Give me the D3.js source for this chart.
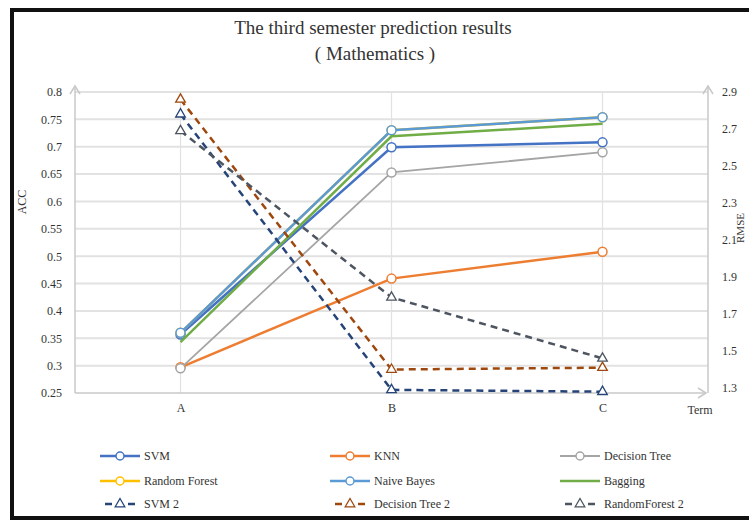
<!DOCTYPE html>
<html>
<head>
<meta charset="utf-8">
<script src="https://cdn.jsdelivr.net/npm/d3@7"></script>
<style>
  body { margin: 0; background: #fff; }
  text { font-family: "Liberation Serif", "DejaVu Serif", serif; fill: #333; }
</style>
</head>
<body>
<div id="chart"></div>
<script>
// Data
var terms = ["A", "B", "C"];
var accTicks = [0.25, 0.3, 0.35, 0.4, 0.45, 0.5, 0.55, 0.6, 0.65, 0.7, 0.75, 0.8];
var rmseTicks = [1.3, 1.5, 1.7, 1.9, 2.1, 2.3, 2.5, 2.7, 2.9];

var svmAcc = [0.357, 0.699, 0.708];
var knnAcc = [0.297, 0.459, 0.508];
var treeAcc = [0.295, 0.653, 0.690];
var forestAcc = [0.360, 0.730, 0.754]; // hidden under Naive Bayes in the original
var bayesAcc = [0.360, 0.730, 0.754];
var baggingAcc = [0.343, 0.719, 0.742];

var svmRmse = [2.78, 1.29, 1.28];
var treeRmse = [2.86, 1.40, 1.41];
var forestRmse = [2.69, 1.79, 1.46];

var seriesList = [
    {name: "SVM", values: svmAcc, color: "#4472c4", axis: "acc", width: 2.5, marker: "circle"},
    {name: "KNN", values: knnAcc, color: "#ed7d31", axis: "acc", width: 2.5, marker: "circle"},
    {name: "Decision Tree", values: treeAcc, color: "#a5a5a5", axis: "acc", width: 1.8, marker: "circle"},
    {name: "Random Forest", values: forestAcc, color: "#ffc000", axis: "acc", width: 2.5, marker: "circle"},
    {name: "Naive Bayes", values: bayesAcc, color: "#5b9bd5", axis: "acc", width: 2.5, marker: "circle"},
    {name: "Bagging", values: baggingAcc, color: "#70ad47", axis: "acc", width: 2.5, marker: "none"},
    {name: "SVM 2", values: svmRmse, color: "#264478", axis: "rmse", width: 2.5, marker: "triangle"},
    {name: "Decision Tree 2", values: treeRmse, color: "#9e480e", axis: "rmse", width: 2.5, marker: "triangle"},
    {name: "RandomForest 2", values: forestRmse, color: "#4d5560", axis: "rmse", width: 2.5, marker: "triangle"}
];

var width = 749;
var height = 523;
var plot = {left: 75, right: 708, top: 92, bottom: 393};

var svg = d3.select("#chart").append("svg")
    .attr("width", width)
    .attr("height", height);

// Frame
svg.append("rect")
    .attr("x", 12)
    .attr("y", 10)
    .attr("width", 745)
    .attr("height", 508)
    .attr("fill", "#fff")
    .attr("stroke", "#111")
    .attr("stroke-width", 4);

// Scales
var xScale = d3.scalePoint()
    .domain(terms)
    .range([plot.left, plot.right])
    .padding(0.5);
var yAcc = d3.scaleLinear()
    .domain([0.25, 0.8])
    .range([plot.bottom, plot.top]);
var yRmse = d3.scaleLinear()
    .domain([1.3, 2.9])
    .range([388, plot.top]);

// Gridlines
svg.append("g")
    .attr("class", "grid")
    .selectAll("line")
    .data(accTicks.slice(1))
    .enter().append("line")
    .attr("x1", plot.left)
    .attr("x2", plot.right)
    .attr("y1", function(d) { return yAcc(d); })
    .attr("y2", function(d) { return yAcc(d); })
    .attr("stroke", "#e2e2e2")
    .attr("stroke-width", 2);

svg.append("g")
    .selectAll("line")
    .data(terms)
    .enter().append("line")
    .attr("x1", function(d) { return xScale(d); })
    .attr("x2", function(d) { return xScale(d); })
    .attr("y1", plot.top)
    .attr("y2", plot.bottom)
    .attr("stroke", "#e2e2e2")
    .attr("stroke-width", 1.2);

// Axis lines with arrow heads
var axisColor = "#c8c8c8";
var axisLines = svg.append("g").attr("class", "axis-lines");
axisLines.append("line")
    .attr("x1", plot.left).attr("x2", plot.left)
    .attr("y1", plot.bottom).attr("y2", plot.top - 6)
    .attr("stroke", axisColor).attr("stroke-width", 1.5);
axisLines.append("path")
    .attr("d", d3.line()([[plot.left - 5, plot.top + 2], [plot.left, plot.top - 6], [plot.left + 5, plot.top + 2]]))
    .attr("fill", "none").attr("stroke", axisColor).attr("stroke-width", 1.5);
axisLines.append("line")
    .attr("x1", plot.right).attr("x2", plot.right)
    .attr("y1", plot.bottom).attr("y2", plot.top - 6)
    .attr("stroke", axisColor).attr("stroke-width", 1.5);
axisLines.append("path")
    .attr("d", d3.line()([[plot.right - 5, plot.top + 2], [plot.right, plot.top - 6], [plot.right + 5, plot.top + 2]]))
    .attr("fill", "none").attr("stroke", axisColor).attr("stroke-width", 1.5);
axisLines.append("line")
    .attr("x1", plot.left).attr("x2", plot.right - 2)
    .attr("y1", plot.bottom).attr("y2", plot.bottom)
    .attr("stroke", axisColor).attr("stroke-width", 1.5);
axisLines.append("path")
    .attr("d", d3.line()([[plot.right - 10, plot.bottom - 5], [plot.right - 2, plot.bottom], [plot.right - 10, plot.bottom + 5]]))
    .attr("fill", "none").attr("stroke", axisColor).attr("stroke-width", 1.5);

// Axes
var gLeft = svg.append("g")
    .attr("transform", "translate(" + plot.left + ",0)")
    .call(d3.axisLeft(yAcc).tickValues(accTicks).tickSize(0).tickPadding(13).tickFormat(d3.format("")));
var gRight = svg.append("g")
    .attr("transform", "translate(" + plot.right + ",0)")
    .call(d3.axisRight(yRmse).tickValues(rmseTicks).tickSize(0).tickPadding(14).tickFormat(d3.format(".1f")));
var gBottom = svg.append("g")
    .attr("transform", "translate(0," + plot.bottom + ")")
    .call(d3.axisBottom(xScale).tickSize(0).tickPadding(10));

[gLeft, gRight, gBottom].forEach(function(g) {
    g.select(".domain").remove();
    g.selectAll("text")
        .style("font-family", "Liberation Serif, serif")
        .style("font-size", "12px")
        .attr("fill", "#333");
});

// Axis titles
svg.append("text")
    .attr("transform", "translate(26,202)rotate(-90)")
    .style("text-anchor", "middle")
    .style("font-size", "12px")
    .text("ACC");
svg.append("text")
    .attr("transform", "translate(744,228)rotate(-90)")
    .style("text-anchor", "middle")
    .style("font-size", "11px")
    .text("RMSE");
svg.append("text")
    .attr("x", 700)
    .attr("y", 414)
    .style("text-anchor", "middle")
    .style("font-size", "12px")
    .text("Term");

// Title
svg.append("text")
    .attr("x", 373)
    .attr("y", 34)
    .style("text-anchor", "middle")
    .style("font-size", "19px")
    .attr("fill", "#222")
    .text("The third semester prediction results");
svg.append("text")
    .attr("x", 375)
    .attr("y", 60)
    .style("text-anchor", "middle")
    .style("font-size", "19px")
    .attr("fill", "#222")
    .text("( Mathematics )");

// Lines
function yFor(s) {
    return s.axis === "acc" ? yAcc : yRmse;
}

var lineGen = d3.line()
    .x(function(d) { return xScale(d.term); });

var triangle = d3.symbol().type(d3.symbolTriangle).size(40);

var gSeries = svg.selectAll(".series")
    .data(seriesList)
    .enter().append("g")
    .attr("class", "series");

gSeries.append("path")
    .attr("d", function(s) {
        var pts = s.values.map(function(v, i) { return {term: terms[i], value: v}; });
        return lineGen.y(function(d) { return yFor(s)(d.value); })(pts);
    })
    .attr("fill", "none")
    .attr("stroke", function(s) { return s.color; })
    .attr("stroke-width", function(s) { return s.width; })
    .attr("stroke-dasharray", function(s) { return s.marker === "triangle" ? "7,5" : null; });

gSeries.each(function(s) {
    if (s.marker === "none") return;
    var pts = s.values.map(function(v, i) { return {term: terms[i], value: v}; });
    var g = d3.select(this);
    if (s.marker === "circle") {
        g.selectAll("circle")
            .data(pts)
            .enter().append("circle")
            .attr("cx", function(d) { return xScale(d.term); })
            .attr("cy", function(d) { return yFor(s)(d.value); })
            .attr("r", 4.5)
            .attr("fill", "#fff")
            .attr("stroke", s.color)
            .attr("stroke-width", 1.5);
    } else {
        g.selectAll(".tri")
            .data(pts)
            .enter().append("path")
            .attr("class", "tri")
            .attr("d", triangle)
            .attr("transform", function(d) {
                return "translate(" + xScale(d.term) + "," + yFor(s)(d.value) + ")";
            })
            .attr("fill", "#fff")
            .attr("stroke", s.color)
            .attr("stroke-width", 1.3);
    }
});

// Legend
var legendCols = [100, 330, 560];
var legendRows = [456, 481, 504];

var legend = svg.selectAll(".legend")
    .data(seriesList)
    .enter().append("g")
    .attr("class", "legend")
    .attr("transform", function(s, i) {
        return "translate(" + legendCols[i % 3] + "," + legendRows[Math.floor(i / 3)] + ")";
    });

legend.append("line")
    .attr("x1", function(s) { return s.marker === "triangle" ? 5 : 0; })
    .attr("x2", function(s) { return s.marker === "triangle" ? 35 : 40; })
    .attr("stroke", function(s) { return s.color; })
    .attr("stroke-width", function(s) { return s.width; })
    .attr("stroke-dasharray", function(s) { return s.marker === "triangle" ? "7,16" : null; });

legend.each(function(s) {
    var g = d3.select(this);
    if (s.marker === "circle") {
        g.append("circle")
            .attr("cx", 20)
            .attr("r", 4)
            .attr("fill", "#fff")
            .attr("stroke", s.color)
            .attr("stroke-width", 1.5);
    } else if (s.marker === "triangle") {
        g.append("path")
            .attr("d", triangle)
            .attr("transform", "translate(20,0)")
            .attr("fill", "#fff")
            .attr("stroke", s.color)
            .attr("stroke-width", 1.3);
    }
});

legend.append("text")
    .attr("x", 44)
    .attr("y", 4)
    .style("font-size", "12px")
    .text(function(s) { return s.name; });
</script>
</body>
</html>
